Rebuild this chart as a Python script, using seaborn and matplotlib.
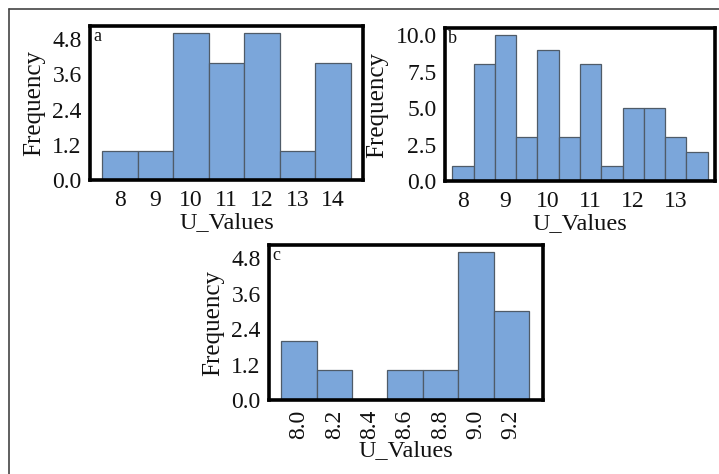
import numpy as np
import matplotlib
matplotlib.use("Agg")
import matplotlib.pyplot as plt
from matplotlib.ticker import FormatStrFormatter
from matplotlib.lines import Line2D
import seaborn as sns

sns.set_theme(style="white")
plt.rcParams["font.family"] = ["Liberation Serif", "DejaVu Serif"]

# Histogram data: bin centres and counts for each panel
a_centers = [8, 9, 10, 11, 12, 13, 14]
a_counts = [1, 1, 5, 4, 5, 1, 4]
a_binwidth = 1.0
a_yticks = [0.0, 1.2, 2.4, 3.6, 4.8]

b_centers = [8.0, 8.5, 9.0, 9.5, 10.0, 10.5, 11.0, 11.5, 12.0, 12.5, 13.0, 13.5]
b_counts = [1, 8, 10, 3, 9, 3, 8, 1, 5, 5, 3, 2]
b_binwidth = 0.5
b_yticks = [0.0, 2.5, 5.0, 7.5, 10.0]
b_xticks = [8, 9, 10, 11, 12, 13]

c_centers = [8.0, 8.2, 8.4, 8.6, 8.8, 9.0, 9.2]
c_counts = [2, 1, 0, 1, 1, 5, 3]
c_binwidth = 0.2
c_yticks = [0.0, 1.2, 2.4, 3.6, 4.8]

BAR = "#7ba6da"
EDGE = "#4f5b68"

W, H = 719, 474
fig = plt.figure(figsize=(W / 100, H / 100), dpi=100)


def px_axes(left, top, right, bottom):
    return fig.add_axes([left / W, 1 - bottom / H, (right - left) / W, (bottom - top) / H])


def draw(ax, centers, counts, bw, yticks, xticks, letter, xlim, rot=0):
    lo = min(centers) - bw / 2
    hi = max(centers) + bw / 2
    sns.histplot(x=centers, weights=counts, binwidth=bw, binrange=(lo, hi),
                 color=BAR, edgecolor=EDGE, linewidth=0.9, alpha=1.0, ax=ax)
    ax.set_ylim(0, max(counts) * 1.05)
    ax.set_xlim(*xlim)
    ax.set_yticks(yticks)
    ax.yaxis.set_major_formatter(FormatStrFormatter("%.1f"))
    ax.set_xticks(xticks)
    if rot:
        ax.set_xticklabels([f"{t:.1f}" for t in xticks], rotation=rot)
    ax.tick_params(axis="x", length=4, width=0.8, color="#888888", pad=3,
                   labelsize=17, labelcolor="#111111")
    ax.tick_params(axis="y", length=0, pad=6, labelsize=17, labelcolor="#111111")
    ax.set_xlabel("U_Values", fontsize=17.5, color="#111111", labelpad=1)
    ax.set_ylabel("Frequency", fontsize=18, color="#111111", labelpad=5)
    for s in ax.spines.values():
        s.set_visible(True)
        s.set_color("black")
        s.set_linewidth(2.6)
    ax.text(0.012, 0.985, letter, transform=ax.transAxes, ha="left", va="top",
            fontsize=13, color="#111111")


ax_a = px_axes(90, 26, 363, 180)
draw(ax_a, a_centers, a_counts, a_binwidth, a_yticks, a_centers, "a", (7.15, 14.85))

ax_b = px_axes(445, 28, 715, 181)
draw(ax_b, b_centers, b_counts, b_binwidth, b_yticks, b_xticks, "b", (7.58, 13.92))

ax_c = px_axes(269, 245, 543, 400)
draw(ax_c, c_centers, c_counts, c_binwidth, c_yticks, c_centers, "c", (7.83, 9.38), rot=90)

# thin frame along the top and left of the figure
fig.add_artist(Line2D([9 / W, 1.0], [1 - 9 / H, 1 - 9 / H], transform=fig.transFigure,
                      color="#444444", linewidth=1.2))
fig.add_artist(Line2D([9 / W, 9 / W], [0.0, 1 - 9 / H], transform=fig.transFigure,
                      color="#444444", linewidth=1.2))

fig.savefig("out.png", dpi=100)
